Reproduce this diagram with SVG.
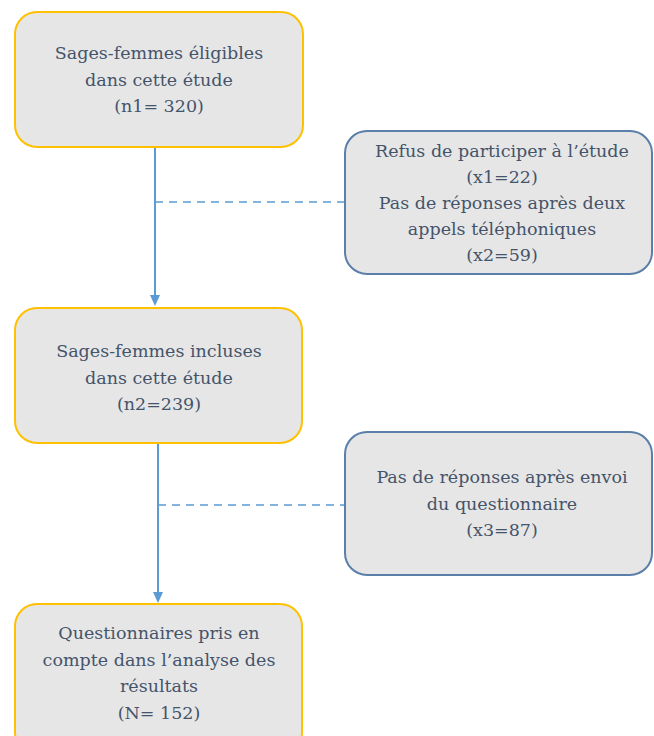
<svg xmlns="http://www.w3.org/2000/svg" width="654" height="736" viewBox="0 0 654 736">
<style>
.bx{fill:#e7e6e6;stroke-width:2}
.y{stroke:#ffc000}
.b{stroke:#5a7fa8}
text{font-family:"DejaVu Serif","Liberation Serif",serif;font-size:17.5px;fill:#44546a;text-anchor:middle}
.c{stroke:#5b9bd5;stroke-width:2;fill:none}
.d{stroke:#5b9bd5;stroke-width:1.5;fill:none;stroke-dasharray:8,6}
</style>
<defs>
<marker id="ah" markerWidth="12" markerHeight="12" refX="6" refY="6" orient="auto" markerUnits="userSpaceOnUse">
<path d="M0,1 L11,6 L0,11 z" fill="#5b9bd5"/>
</marker>
</defs>
<g id="connectors">
<path class="c" d="M155,147 V301" marker-end="url(#ah)"/>
<path class="d" d="M155,202 H345"/>
<path class="c" d="M158,443 V598" marker-end="url(#ah)"/>
<path class="d" d="M158,505 H345"/>
</g>
<g id="n1">
<rect class="bx y" x="15" y="12" width="288" height="135" rx="22"/>
<text x="159" y="59">Sages-femmes éligibles</text>
<text x="159" y="86">dans cette étude</text>
<text x="159" y="112">(n1= 320)</text>
</g>
<g id="r1">
<rect class="bx b" x="345" y="131" width="307" height="143" rx="22"/>
<text x="502" y="157">Refus de participer à l’étude</text>
<text x="502" y="183">(x1=22)</text>
<text x="502" y="209">Pas de réponses après deux</text>
<text x="502" y="235">appels téléphoniques</text>
<text x="502" y="261">(x2=59)</text>
</g>
<g id="n2">
<rect class="bx y" x="15" y="308" width="287" height="135" rx="22"/>
<text x="159" y="357">Sages-femmes incluses</text>
<text x="159" y="384">dans cette étude</text>
<text x="159" y="410">(n2=239)</text>
</g>
<g id="r2">
<rect class="bx b" x="345" y="432" width="307" height="143" rx="22"/>
<text x="502" y="483">Pas de réponses après envoi</text>
<text x="502" y="510">du questionnaire</text>
<text x="502" y="536">(x3=87)</text>
</g>
<g id="n3">
<rect class="bx y" x="15" y="604" width="287" height="150" rx="22"/>
<text x="159" y="639">Questionnaires pris en</text>
<text x="159" y="666">compte dans l’analyse des</text>
<text x="159" y="692">résultats</text>
<text x="159" y="719">(N= 152)</text>
</g>
</svg>
